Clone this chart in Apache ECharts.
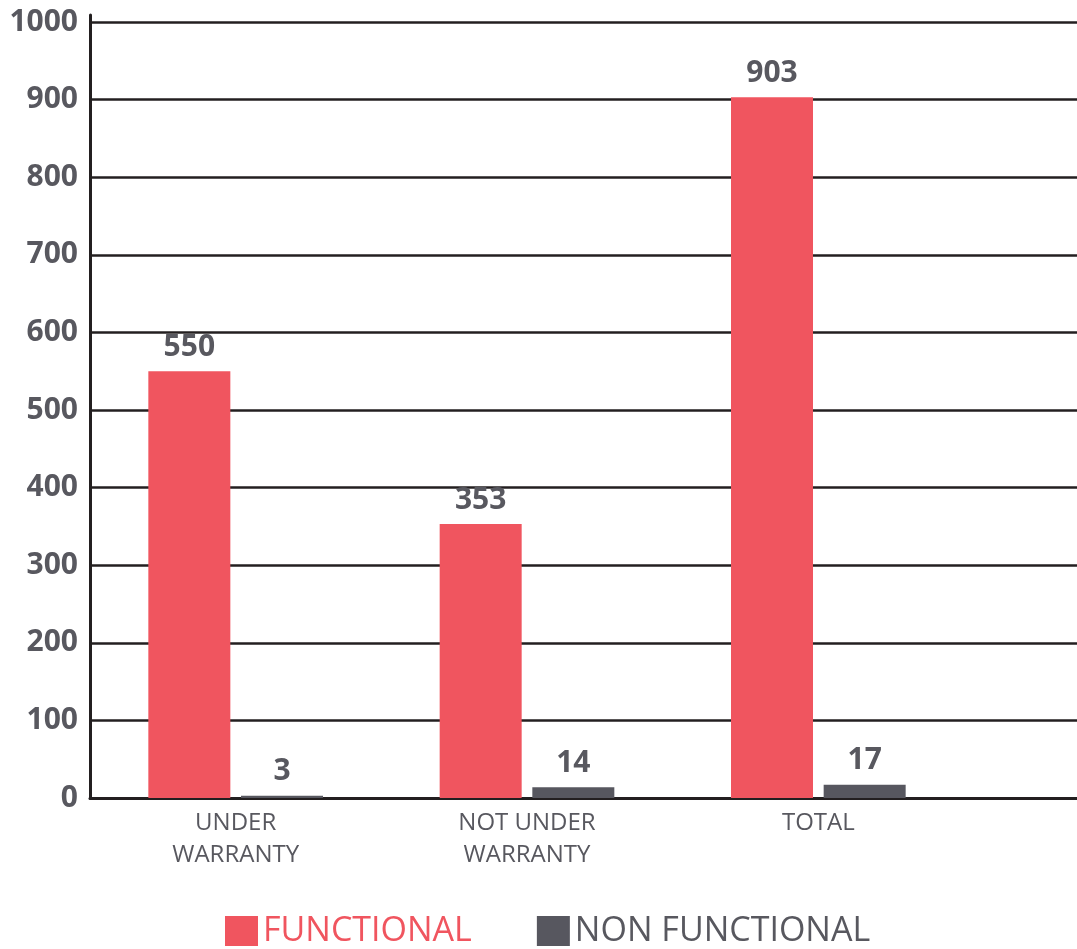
<!DOCTYPE html>
<html><head><meta charset="utf-8">
<script src="https://cdn.jsdelivr.net/npm/echarts@6/dist/echarts.min.js"></script>
<style>html,body{margin:0;padding:0;background:#fff}#c{width:1077px;height:949px}</style>
</head><body><div id="c"></div>
<script>
const categories = ['UNDER\nWARRANTY', 'NOT UNDER\nWARRANTY', 'TOTAL'];
const functional = [550, 353, 903];
const nonFunctional = [3, 14, 17];
const seriesNames = ['FUNCTIONAL', 'NON FUNCTIONAL'];
const yMax = 1000, yStep = 100;

const RED = '#F0555F', GRAY = '#57575F', TXT = '#58585F', LINE = '#231f20';
const FONT = '"Open Sans", "Noto Sans", sans-serif';
const chart = echarts.init(document.getElementById('c'));
const valueLabel = {show: true, position: 'top', distance: 9, color: TXT, fontFamily: FONT, fontWeight: 'bold', fontSize: 30};
chart.setOption({
  animation: false,
  grid: [
    {left: 90, right: 0, top: 22, bottom: 151},
    {left: 90, right: 113, top: 22, bottom: 151},
    {left: 90, right: 0, top: 15, bottom: 151}
  ],
  legend: {
    left: 225, bottom: 1, icon: 'rect', itemWidth: 33, itemHeight: 30, itemGap: 65, padding: 0,
    textStyle: {fontFamily: FONT, fontSize: 34, lineHeight: 30, padding: [0, 0, 0, 0]},
    data: [
      {name: seriesNames[0], textStyle: {color: RED}},
      {name: seriesNames[1], textStyle: {color: TXT}}
    ]
  },
  xAxis: [
    {gridIndex: 0, type: 'value', show: false},
    {gridIndex: 1, type: 'category', data: categories,
     axisLine: {show: false}, axisTick: {show: false},
     axisLabel: {color: TXT, fontFamily: FONT, fontSize: 24, lineHeight: 32, margin: 9}},
    {gridIndex: 2, type: 'value', position: 'top',
     axisLine: {show: true, lineStyle: {color: LINE, width: 3}},
     axisTick: {show: false}, axisLabel: {show: false}, splitLine: {show: false}}
  ],
  yAxis: [
    {gridIndex: 0, type: 'value', min: 0, max: yMax, interval: yStep,
     axisLine: {show: true, lineStyle: {color: LINE, width: 3}}, axisTick: {show: false},
     axisLabel: {color: TXT, fontFamily: FONT, fontWeight: 'bold', fontSize: 30, margin: 12,
                 formatter: v => String(v)},
     splitLine: {show: true, lineStyle: {color: LINE, width: 2.5}}},
    {gridIndex: 1, type: 'value', min: 0, max: yMax, interval: yStep, show: false},
    {gridIndex: 2, type: 'value', min: 0, max: 1,
     axisLine: {show: true, lineStyle: {color: LINE, width: 3}},
     axisTick: {show: false}, axisLabel: {show: false}, splitLine: {show: false}}
  ],
  series: [
    {name: seriesNames[0], type: 'bar', xAxisIndex: 1, yAxisIndex: 1, data: functional,
     barWidth: 82, barGap: '13%', itemStyle: {color: RED}, label: valueLabel},
    {name: seriesNames[1], type: 'bar', xAxisIndex: 1, yAxisIndex: 1, data: nonFunctional,
     barWidth: 82, barGap: '13%', itemStyle: {color: GRAY}, label: valueLabel}
  ]
});
</script></body></html>
